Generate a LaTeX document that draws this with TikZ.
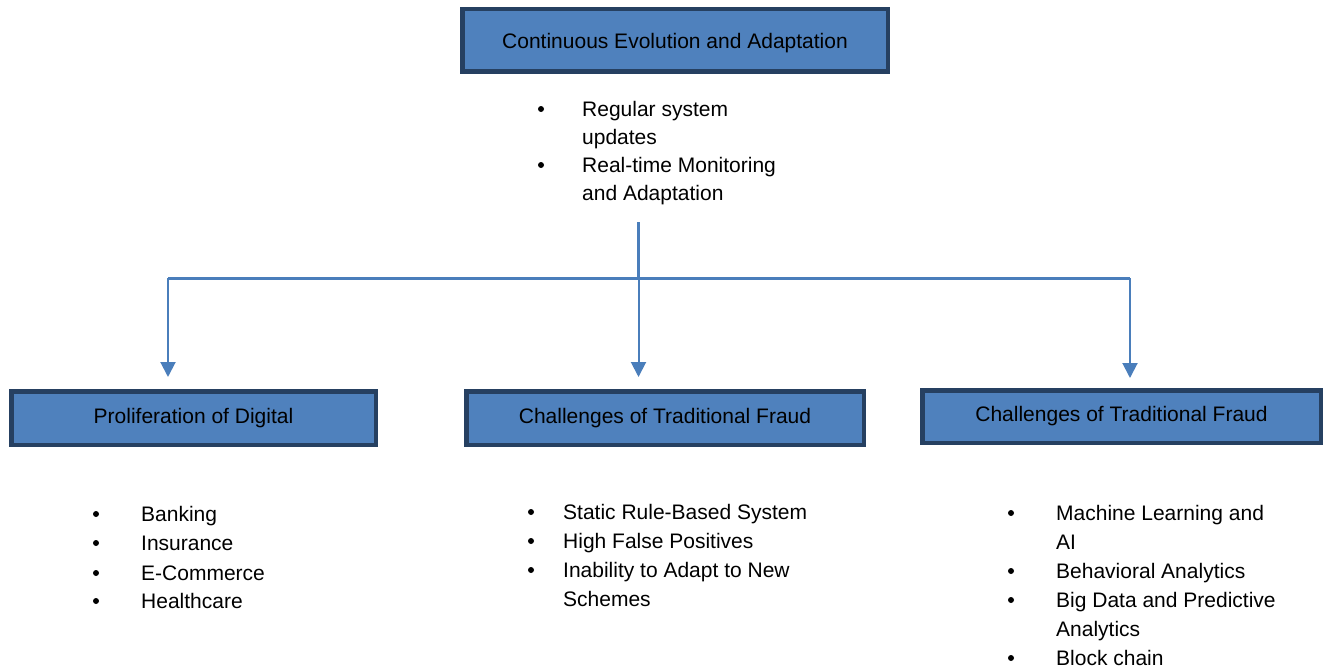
\documentclass[tikz,border=0pt]{standalone}
\usepackage{fontspec}
\setmainfont{Liberation Sans}
\usetikzlibrary{arrows.meta}
\definecolor{boxfill}{RGB}{79,129,189}
\definecolor{boxline}{RGB}{38,64,97}
\definecolor{conn}{RGB}{74,126,187}
\tikzset{
  titlebox/.style={draw=boxline, fill=boxfill, line width=4.5pt, inner sep=0pt,
    font=\fontsize{21}{25}\selectfont, text=black},
  item/.style={anchor=base west, inner sep=0pt, font=\fontsize{21}{25}\selectfont},
  bul/.style={circle, fill=black, inner sep=0pt, minimum size=6pt, yshift=7pt},
  hline/.style={draw=conn, line width=3pt},
  arr/.style={draw=conn, line width=2pt, -{Triangle[width=15pt,length=15pt]}},
}
\begin{document}
\begin{tikzpicture}[x=1pt,y=-1pt]
\useasboundingbox (0,0) rectangle (1326,669);
% boxes
\node[titlebox, minimum width=425.5pt, minimum height=62.5pt] (top) at (675,40.5) {\smash{\raisebox{-8pt}{Continuous Evolution and Adaptation}}};
\node[titlebox, minimum width=364.5pt, minimum height=53.5pt] (b1) at (193.5,418) {Proliferation of Digital};
\node[titlebox, minimum width=397.5pt, minimum height=53.5pt] (b2) at (665,418) {Challenges of Traditional Fraud};
\node[titlebox, minimum width=398.5pt, minimum height=52.5pt] (b3) at (1121.5,416.5) {Challenges of Traditional Fraud};
% top list
\node[bul] (tb1) at (541,116) {};
\node[item] (tl1) at (582,116) {Regular system};
\node[item] (tl2) at (582,144) {updates};
\node[bul] (tb2) at (541,172) {};
\node[item] (tl3) at (582,172) {Real-time Monitoring};
\node[item] (tl4) at (582,200) {and Adaptation};
% left list
\node[bul] (lb1) at (96,521) {};
\node[item] (ll1) at (141,521) {Banking};
\node[bul] (lb2) at (96,550) {};
\node[item] (ll2) at (141,550) {Insurance};
\node[bul] (lb3) at (96,580) {};
\node[item] (ll3) at (141,580) {E-Commerce};
\node[bul] (lb4) at (96,608) {};
\node[item] (ll4) at (141,608) {Healthcare};
% middle list
\node[bul] (mb1) at (531,519) {};
\node[item] (ml1) at (563,519) {Static Rule-Based System};
\node[bul] (mb2) at (531,548) {};
\node[item] (ml2) at (563,548) {High False Positives};
\node[bul] (mb3) at (531,577) {};
\node[item] (ml3) at (563,577) {Inability to Adapt to New};
\node[item] (ml4) at (563,606) {Schemes};
% right list
\node[bul] (rb1) at (1011,520) {};
\node[item] (rl1) at (1056,520) {Machine Learning and};
\node[item] (rl2) at (1056,549) {AI};
\node[bul] (rb2) at (1011,578) {};
\node[item] (rl3) at (1056,578) {Behavioral Analytics};
\node[bul] (rb3) at (1011,607) {};
\node[item] (rl4) at (1056,607) {Big Data and Predictive};
\node[item] (rl5) at (1056,636) {Analytics};
\node[bul] (rb4) at (1011,665) {};
\node[item] (rl6) at (1056,665) {Block chain};
% connectors
\coordinate (stem) at (638.5,222);
\coordinate (j) at (638.5,278);
\coordinate (h1) at (168,278);
\coordinate (h3) at (1130,278);
\coordinate (t1) at (168,377);
\coordinate (t2) at (638.5,377);
\coordinate (t3) at (1130,378);
\draw[hline] (stem) -- (j);
\draw[hline] (h1) -- (h3);
\draw[arr] (h1) -- (t1);
\draw[arr] (j) -- (t2);
\draw[arr] (h3) -- (t3);
\end{tikzpicture}
\end{document}
